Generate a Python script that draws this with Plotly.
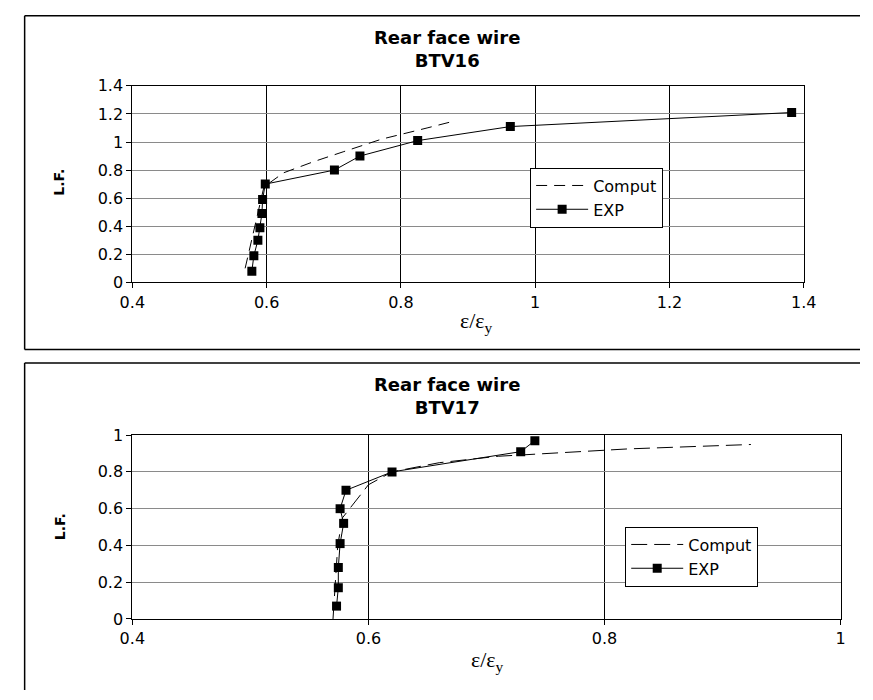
import plotly.graph_objects as go

W, H = 873, 700

# ---- BTV16 ----
btv16_exp_x = [0.578, 0.581, 0.587, 0.590, 0.593, 0.594, 0.598, 0.701, 0.739, 0.825, 0.963, 1.382]
btv16_exp_y = [0.08, 0.19, 0.30, 0.39, 0.49, 0.59, 0.70, 0.80, 0.90, 1.01, 1.11, 1.21]
btv16_comp_x = [0.568, 0.575, 0.582, 0.589, 0.596, 0.625, 0.670, 0.714, 0.771, 0.839, 0.876]
btv16_comp_y = [0.10, 0.25, 0.40, 0.55, 0.68, 0.78, 0.86, 0.93, 1.02, 1.10, 1.145]

# ---- BTV17 ----
btv17_exp_x = [0.573, 0.5745, 0.5745, 0.576, 0.579, 0.576, 0.581, 0.620, 0.729, 0.741]
btv17_exp_y = [0.07, 0.17, 0.28, 0.41, 0.52, 0.60, 0.70, 0.80, 0.91, 0.97]
btv17_comp_x = [0.570, 0.572, 0.574, 0.578, 0.588, 0.600, 0.620, 0.660, 0.710, 0.760, 0.820, 0.924]
btv17_comp_y = [0.00, 0.20, 0.40, 0.55, 0.63, 0.73, 0.80, 0.85, 0.885, 0.905, 0.925, 0.949]

top_xticks = [0.4, 0.6, 0.8, 1.0, 1.2, 1.4]
top_yticks = [0, 0.2, 0.4, 0.6, 0.8, 1.0, 1.2, 1.4]
bot_xticks = [0.4, 0.6, 0.8, 1.0]
bot_yticks = [0, 0.2, 0.4, 0.6, 0.8, 1.0]

FONT = "DejaVu Sans, Liberation Sans, Arial, sans-serif"
SERIF = "Liberation Serif, Times New Roman, serif"


def px_x(p):
    return p / W


def px_y(p):
    return 1 - p / H


fig = go.Figure()

# top chart traces
fig.add_trace(go.Scatter(x=btv16_comp_x, y=btv16_comp_y, mode="lines", name="Comput",
                         line=dict(color="black", width=1, dash="11px,7px"),
                         xaxis="x", yaxis="y", legend="legend"))
fig.add_trace(go.Scatter(x=btv16_exp_x, y=btv16_exp_y, mode="lines+markers", name="EXP",
                         line=dict(color="black", width=1),
                         marker=dict(symbol="square", size=9, color="black"),
                         xaxis="x", yaxis="y", legend="legend"))

# bottom chart traces
fig.add_trace(go.Scatter(x=btv17_comp_x, y=btv17_comp_y, mode="lines", name="Comput",
                         line=dict(color="black", width=1, dash="16px,7px"),
                         xaxis="x2", yaxis="y2", legend="legend2"))
fig.add_trace(go.Scatter(x=btv17_exp_x, y=btv17_exp_y, mode="lines+markers", name="EXP",
                         line=dict(color="black", width=1),
                         marker=dict(symbol="square", size=9, color="black"),
                         xaxis="x2", yaxis="y2", legend="legend2"))

axis_common = dict(
    showline=True, linecolor="black", linewidth=1, mirror=True,
    ticks="outside", ticklen=5, tickcolor="black", tickwidth=1,
    tickfont=dict(family=FONT, size=16, color="black"),
    zeroline=False,
)

legend_common = dict(
    xanchor="left", yanchor="top",
    bgcolor="white", bordercolor="black", borderwidth=1,
    font=dict(family=FONT, size=16, color="black"),
    tracegroupgap=0, itemwidth=52,
)

fig.update_layout(
    width=W, height=H,
    margin=dict(l=0, r=0, t=0, b=0),
    paper_bgcolor="white", plot_bgcolor="white",
    xaxis=dict(domain=[px_x(123), px_x(815)], range=[0.4, 1.4], tickvals=top_xticks,
               showgrid=True, gridcolor="black", gridwidth=1, anchor="y", **axis_common),
    yaxis=dict(domain=[px_y(281), px_y(79)], range=[0, 1.4], tickvals=top_yticks,
               showgrid=True, gridcolor="#8a8a8a", gridwidth=1, anchor="x", **axis_common),
    xaxis2=dict(domain=[px_x(123), px_x(853)], range=[0.4, 1.0], tickvals=bot_xticks,
                showgrid=True, gridcolor="black", gridwidth=1, anchor="y2", **axis_common),
    yaxis2=dict(domain=[px_y(627), px_y(438)], range=[0, 1.0], tickvals=bot_yticks,
                showgrid=True, gridcolor="#8a8a8a", gridwidth=1, anchor="x2", **axis_common),
    legend=dict(x=px_x(533), y=px_y(163), **legend_common),
    legend2=dict(x=px_x(631), y=px_y(532), **legend_common),
    showlegend=True,
)

# outer frames around each chart (they run off the right/bottom edge of the page)
frame = dict(color="black", width=1.5)
for x0, y0, x1, y1 in [
    (12, 7, W, 7), (12, 7, 12, 350), (12, 350, W, 350),      # BTV16 box
    (12, 364, W, 364), (12, 364, 12, H),                      # BTV17 box
]:
    fig.add_shape(type="line", xref="paper", yref="paper",
                  x0=px_x(x0), y0=px_y(y0), x1=px_x(x1), y1=px_y(y1),
                  line=frame, layer="below")

# chart titles (two lines each)
for text, yp in [("Rear face wire<br>BTV16", 41), ("Rear face wire<br>BTV17", 398)]:
    fig.add_annotation(text=f"<b>{text}</b>", x=px_x(447), y=px_y(yp), xref="paper", yref="paper",
                       showarrow=False, xanchor="center", yanchor="middle", align="center",
                       font=dict(family=FONT, size=18, color="black"))

# axis titles
for (xp, yp) in [(478, 322), (489, 670)]:
    fig.add_annotation(text="ε/ε<sub>y</sub>", x=px_x(xp), y=px_y(yp), xref="paper", yref="paper",
                       showarrow=False, xanchor="center", yanchor="middle",
                       font=dict(family=SERIF, size=22, color="black"))
for (xp, yp) in [(48, 178), (48, 532)]:
    fig.add_annotation(text="<b>L.F.</b>", x=px_x(xp), y=px_y(yp), xref="paper", yref="paper",
                       showarrow=False, xanchor="center", yanchor="middle", textangle=-90,
                       font=dict(family=FONT, size=14, color="black"))

fig.write_html("out.html")
